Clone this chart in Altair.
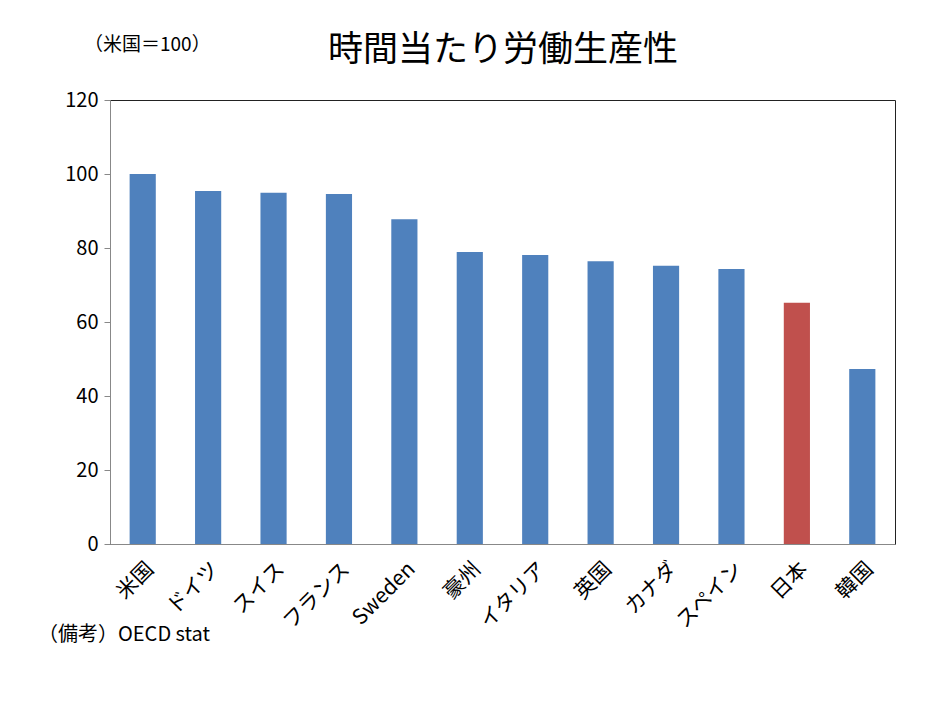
import altair as alt
import pandas as pd

countries = ["米国", "ドイツ", "スイス", "フランス", "Sweden", "豪州", "イタリア", "英国", "カナダ", "スペイン", "日本", "韓国"]
values = [100.0, 95.4, 94.9, 94.6, 87.8, 78.9, 78.1, 76.4, 75.2, 74.3, 65.2, 47.3]
highlight = ["other"] * 10 + ["japan", "other"]

title_text = "時間当たり労働生産性"
unit_text = "（米国＝100）"
source_text = "（備考）OECD stat"

df = pd.DataFrame({"country": countries, "value": values, "group": highlight})

FONT = "Noto Sans CJK JP"

bars = alt.Chart(df).mark_bar().encode(
    x=alt.X("country:N", sort=countries,
            scale=alt.Scale(paddingInner=0.6, paddingOuter=0.3),
            axis=alt.Axis(title=None, labelAngle=-45, labelFontSize=21, labelFont=FONT,
                          labelColor="black", ticks=False, domainColor="#888888",
                          labelPadding=14)),
    y=alt.Y("value:Q", scale=alt.Scale(domain=[0, 120]),
            axis=alt.Axis(title=None, values=[0, 20, 40, 60, 80, 100, 120], grid=False,
                          labelFontSize=20, labelFont=FONT, labelColor="black",
                          tickColor="#888888", tickSize=6, domainColor="#888888",
                          labelPadding=6)),
    color=alt.Color("group:N", scale=alt.Scale(domain=["other", "japan"], range=["#4f81bd", "#c0504d"]),
                    legend=None),
)

title = alt.Chart(pd.DataFrame({"t": [title_text]})).mark_text(
    align="center", baseline="middle", fontSize=35, font=FONT, color="black"
).encode(text="t:N", x=alt.value(393), y=alt.value(-50))

unit = alt.Chart(pd.DataFrame({"t": [unit_text]})).mark_text(
    align="left", baseline="middle", fontSize=19, font=FONT, color="black"
).encode(text="t:N", x=alt.value(-26), y=alt.value(-55))

source = alt.Chart(pd.DataFrame({"t": [source_text]})).mark_text(
    align="left", baseline="middle", fontSize=20, font=FONT, color="black"
).encode(text="t:N", x=alt.value(-72), y=alt.value(535))

chart = alt.layer(bars, title, unit, source).properties(
    width=785, height=444,
    autosize=alt.AutoSizeParams(type="none"),
    padding={"left": 102, "top": 92, "right": 30, "bottom": 150},
).configure_view(stroke="#222222", strokeWidth=1)

chart.save("out.html", embed_options={"renderer": "svg", "actions": False})
